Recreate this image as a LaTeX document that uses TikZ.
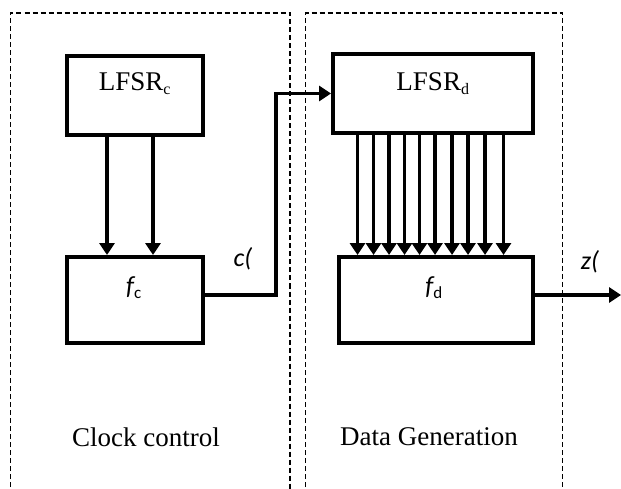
\documentclass[tikz,border=0pt]{standalone}
\usepackage{fontspec}
\setmainfont{Liberation Serif}
\newfontfamily\calib{Carlito}
\usetikzlibrary{arrows.meta}
\begin{document}
\begin{tikzpicture}[x=1pt,y=-1pt,
  blk/.style={draw,line width=4pt,inner sep=0pt},
  arr/.style={line width=3.4pt,-{Triangle[length=12pt,width=15pt]}},
  grp/.style={line width=1.4pt,dash pattern=on 5pt off 3pt},
  lbl/.style={font=\fontsize{27}{30}\selectfont,inner sep=0pt},
  cal/.style={font=\calib\fontsize{26}{30}\selectfont\itshape,inner sep=0pt}]
\useasboundingbox (0,0) rectangle (621,489);
% groups
\draw[grp] (10.5,495) -- (10.5,13) -- (290,13) -- (290,495);
\draw[grp] (305.5,495) -- (305.5,13) -- (562.5,13) -- (562.5,495);
% blocks
\node[blk,minimum width=136pt,minimum height=79pt] (lc) at (135,95.5) {};
\node[blk,minimum width=136pt,minimum height=86pt] (fc) at (135,300) {};
\node[blk,minimum width=200pt,minimum height=79pt] (ld) at (433,93.5) {};
\node[blk,minimum width=194pt,minimum height=86pt] (fd) at (436,300) {};
% texts
\node[lbl] (tlc) at (135,84) {LFSR\textsubscript{\fontsize{16}{16}\selectfont c}};
\node[lbl] (tld) at (433,84) {LFSR\textsubscript{\fontsize{16}{16}\selectfont d}};
\node[cal] (tfc) at (134,288) {f\textsubscript{\upshape\fontsize{17}{17}\selectfont c}};
\node[cal] (tfd) at (434,288) {f\textsubscript{\upshape\fontsize{17}{17}\selectfont d}};
\node[cal] (cl) at (243,259) {c(};
\node[cal] (zl) at (590,262) {z(};
\node[lbl] (g1) at (146,437) {Clock control};
\node[lbl] (g2) at (429,437) {Data Generation};
% arrows LFSRc -> fc
\foreach \x in {107,153}
  \draw[arr] (lc.south -| \x,0) -- (fc.north -| \x,0);
% arrows LFSRd -> fd
\foreach \x in {357.5,373.5,389,404.5,419.5,435,452,468,485,503.5}
  \draw[arr] (ld.south -| \x,0) -- (fd.north -| \x,0);
% c connection
\coordinate (bend) at (276,0);
\draw[arr] ([yshift=5pt]fc.east) -| (bend |- ld.west) -- (ld.west);
% z output
\coordinate (zend) at (621,295);
\draw[arr] ([yshift=5pt]fd.east) -- (zend);
\end{tikzpicture}
\end{document}
